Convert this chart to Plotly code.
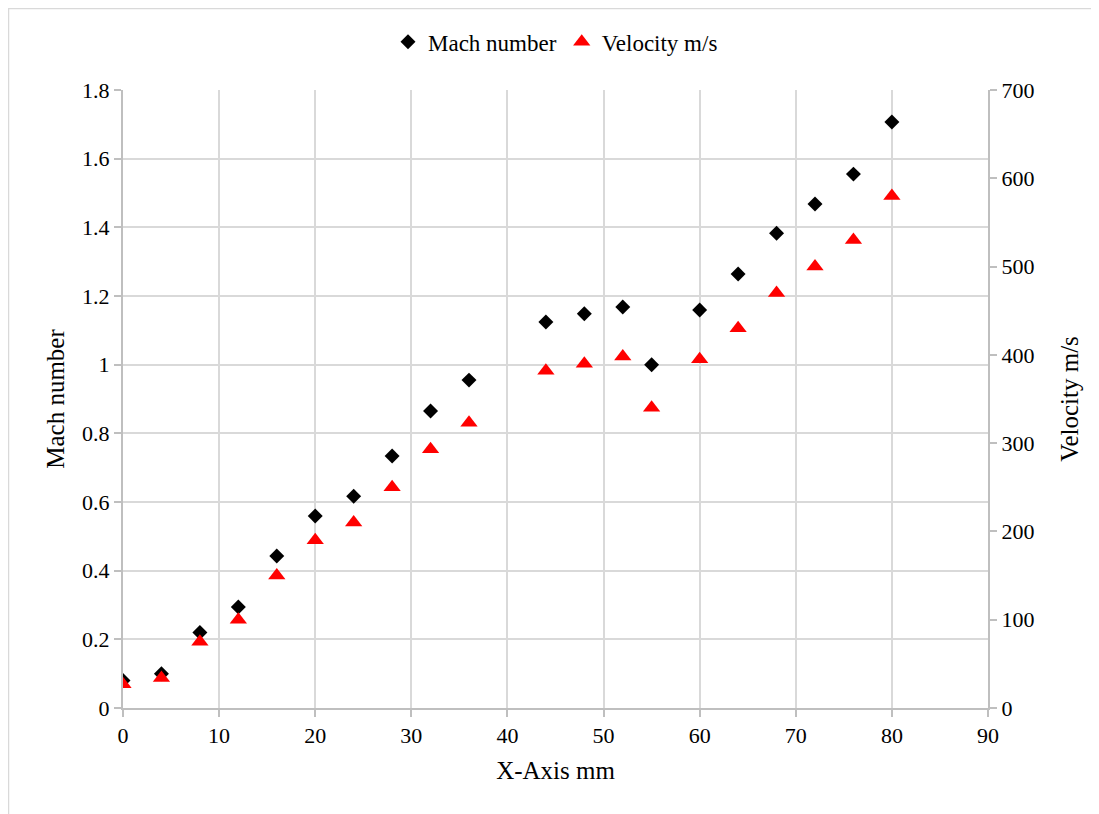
import plotly.graph_objects as go

x_mm = [0, 4, 8, 12, 16, 20, 24, 28, 32, 36, 44, 48, 52, 55, 60, 64, 68, 72, 76, 80]
mach = [0.08, 0.10, 0.22, 0.294, 0.443, 0.559, 0.617, 0.734, 0.865, 0.955,
        1.124, 1.148, 1.168, 1.0, 1.159, 1.264, 1.383, 1.468, 1.555, 1.707]
velocity = [27, 34, 75, 100, 150, 190, 210, 250, 293, 323,
            382, 390, 398, 340, 395, 430, 470, 500, 530, 580]

FONT = "Liberation Serif, Times New Roman, serif"
GRID = "#d9d9d9"
AXIS = "#bfbfbf"

W, H = 1091, 806
L, T = 115, 82
PW, PH = 865, 618

fig = go.Figure()
fig.add_trace(go.Scatter(x=x_mm, y=mach, mode="markers", name="Mach number",
                         marker=dict(symbol="diamond", size=11.5, color="black")))
fig.add_trace(go.Scatter(x=x_mm, y=velocity, mode="markers", name="Velocity m/s", yaxis="y2",
                         marker=dict(symbol="triangle-up", size=15, color="#ff0000")))

fig.update_layout(
    width=W, height=H,
    margin=dict(l=L, r=W - L - PW, t=T, b=H - T - PH),
    paper_bgcolor="white", plot_bgcolor="white",
    font=dict(family=FONT, size=22, color="black"),
    showlegend=True,
    legend=dict(orientation="h", x=0.5, xanchor="center", y=1.078, yanchor="middle",
                font=dict(family=FONT, size=23), itemwidth=30, tracegroupgap=0),
    xaxis=dict(range=[0, 90], dtick=10, tick0=0, showgrid=True, gridcolor=GRID, gridwidth=1.5,
               showline=True, linecolor=AXIS, linewidth=2, ticks="outside", ticklen=7,
               tickcolor=AXIS, tickwidth=1.5, zeroline=False,
               tickfont=dict(family=FONT, size=22),
               title=dict(text="X-Axis mm", font=dict(family=FONT, size=25), standoff=14)),
    yaxis=dict(range=[0, 1.8], dtick=0.2, tick0=0, showgrid=True, gridcolor=GRID, gridwidth=1.5,
               showline=True, linecolor=AXIS, linewidth=2, ticks="outside", ticklen=7,
               tickcolor=AXIS, tickwidth=1.5, zeroline=False, tickformat="~g",
               tickfont=dict(family=FONT, size=22),
               title=dict(text="Mach number", font=dict(family=FONT, size=25), standoff=10)),
    yaxis2=dict(range=[0, 700], dtick=100, tick0=0, overlaying="y", side="right", showgrid=False,
                showline=True, linecolor=AXIS, linewidth=2, ticks="outside", ticklen=7,
                tickcolor=AXIS, tickwidth=1.5, zeroline=False,
                tickfont=dict(family=FONT, size=22),
                title=dict(text="Velocity m/s", font=dict(family=FONT, size=25), standoff=27)),
    shapes=[dict(type="rect", xref="paper", yref="paper",
                 x0=(0.5 - L) / PW, x1=(W + 20 - L) / PW,
                 y0=(T + PH - (H + 20)) / PH, y1=(T + PH - 0.5) / PH,
                 line=dict(color="#d9d9d9", width=1.5), fillcolor="rgba(0,0,0,0)", layer="below")],
)

fig.write_html("out.html")
